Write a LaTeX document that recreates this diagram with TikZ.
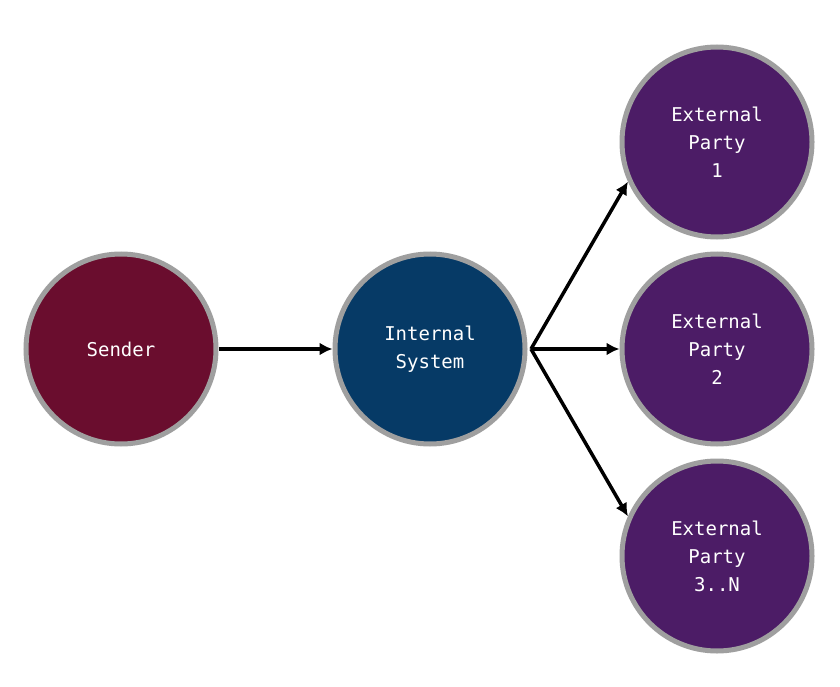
\documentclass[tikz,border=0pt]{standalone}
\usepackage{fontspec}
\setmonofont{DejaVu Sans Mono}
\usetikzlibrary{arrows.meta}
\begin{document}
\begin{tikzpicture}[x=1pt,y=-1pt,
  circ/.style={circle,draw=gray!75!white,line width=5pt,minimum size=190pt,inner sep=0pt,text=white,align=center,font=\ttfamily\fontsize{19}{28}\selectfont},
  arr/.style={line width=3.5pt,-{Latex[length=13pt,width=13pt]}}]
\useasboundingbox (0,0) rectangle (840,687);
\fill[white] (0,0) rectangle (840,687);
\node[circ,fill={rgb,255:red,106;green,13;blue,46}] (s) at (121,349) {Sender};
\node[circ,fill={rgb,255:red,6;green,58;blue,102}] (i) at (430,349) {Internal\\System};
\node[circ,fill={rgb,255:red,76;green,28;blue,102}] (e1) at (717,142) {External\\Party\\1};
\node[circ,fill={rgb,255:red,76;green,28;blue,102}] (e2) at (717,349) {External\\Party\\2};
\node[circ,fill={rgb,255:red,76;green,28;blue,102}] (e3) at (717,556) {External\\Party\\3..N};
\coordinate (o) at (531,349);
\draw[arr] (s) -- (i);
\draw[arr] (o) -- (e1.204);
\draw[arr] (o) -- (e2);
\draw[arr] (o) -- (e3.156);
\end{tikzpicture}
\end{document}
